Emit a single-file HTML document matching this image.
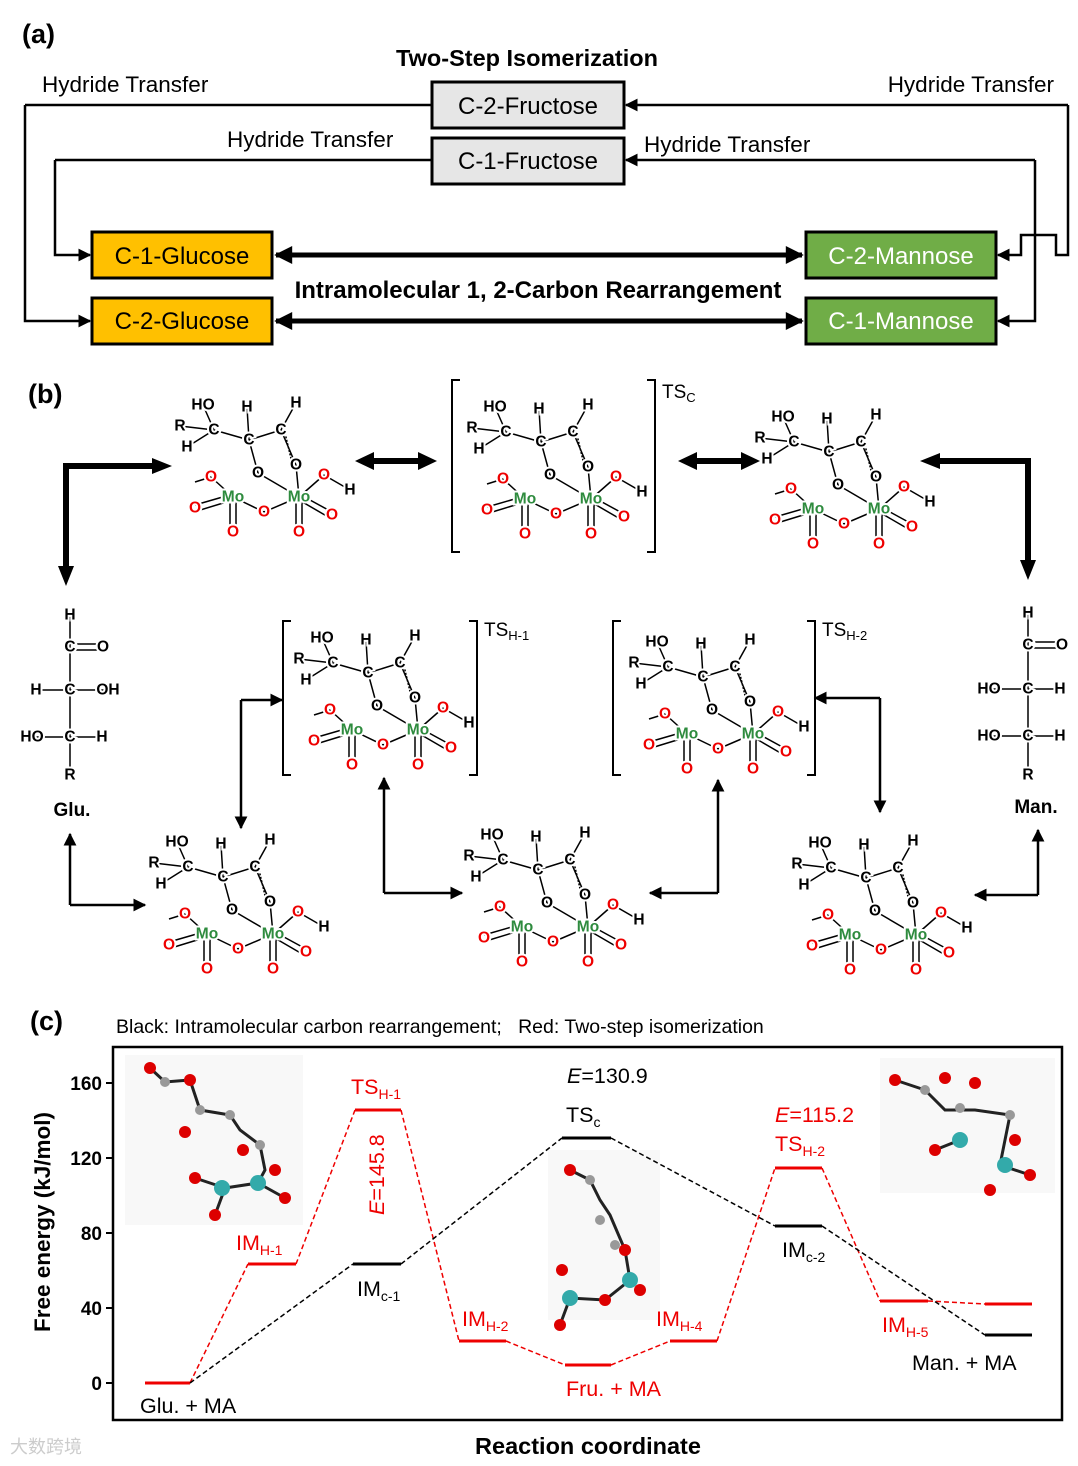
<!DOCTYPE html>
<html><head><meta charset="utf-8"><style>
body{margin:0;background:#fff}
svg{display:block;font-family:"Liberation Sans",Arial,sans-serif}
.a text{font-size:15.5px;font-weight:bold;text-anchor:middle;dominant-baseline:central;paint-order:stroke;stroke:#fff;stroke-width:4px}
.r{fill:#e00}.g{fill:#2e8b3e}
</style></head><body>
<svg width="1078" height="1466" viewBox="0 0 1078 1466">
<defs>
<marker id="am" viewBox="0 0 10 10" refX="9" refY="5" markerWidth="13" markerHeight="13" orient="auto-start-reverse" markerUnits="userSpaceOnUse"><path d="M0,0L10,5L0,10z"/></marker>
<marker id="aL" viewBox="0 0 10 10" refX="9" refY="5" markerWidth="20" markerHeight="18" orient="auto-start-reverse" markerUnits="userSpaceOnUse"><path d="M0,0L10,5L0,10z"/></marker>
<g id="mol" class="a">
<g stroke="#000" stroke-width="1.5" fill="none">
<line x1="28" y1="10" x2="39" y2="35"/><line x1="5" y1="31" x2="39" y2="35"/><line x1="12" y1="52" x2="39" y2="35"/>
<line x1="39" y1="35" x2="74" y2="45"/><line x1="72" y1="12" x2="74" y2="45"/><line x1="74" y1="45" x2="106" y2="35"/>
<line x1="121" y1="8" x2="106" y2="35"/><line x1="74" y1="45" x2="83" y2="78"/><line x1="106" y1="35" x2="121" y2="70"/>
<line x1="110" y1="38" x2="118" y2="72" stroke-dasharray="2,1.5"/>
<line x1="83" y1="78" x2="124" y2="102"/><line x1="121" y1="70" x2="124" y2="102"/>
<line x1="149" y1="80" x2="124" y2="102"/><line x1="149" y1="80" x2="175" y2="95"/>
<line x1="58" y1="102" x2="89" y2="117"/><line x1="89" y1="117" x2="124" y2="102"/>
<line x1="36" y1="82" x2="58" y2="102"/><line x1="36" y1="82" x2="20" y2="87"/>
<line x1="20" y1="110" x2="58" y2="99"/><line x1="22" y1="116" x2="58" y2="105"/>
<line x1="55" y1="102" x2="55" y2="137"/><line x1="61" y1="102" x2="61" y2="137"/>
<line x1="121" y1="102" x2="121" y2="137"/><line x1="127" y1="102" x2="127" y2="137"/>
<line x1="124" y1="99" x2="157" y2="117"/><line x1="124" y1="105" x2="155" y2="123"/>
</g>
<text x="28" y="10">HO</text><text x="72" y="12">H</text><text x="121" y="8">H</text><text x="5" y="31">R</text>
<text x="39" y="35">C</text><text x="12" y="52">H</text><text x="74" y="45">C</text><text x="106" y="35">C</text>
<text x="83" y="78">O</text><text x="121" y="70">O</text><text class="r" x="149" y="80">O</text><text x="175" y="95">H</text>
<text class="g" x="58" y="102">Mo</text><text class="g" x="124" y="102">Mo</text>
<text class="r" x="36" y="82">O</text><text class="r" x="20" y="113">O</text><text class="r" x="89" y="117">O</text>
<text class="r" x="58" y="137">O</text><text class="r" x="124" y="137">O</text><text class="r" x="157" y="120">O</text>
</g>
</defs>

<!-- (a) -->
<text x="22" y="43" font-size="27" font-weight="bold">(a)</text>
<text x="527" y="66" font-size="23.5" font-weight="bold" text-anchor="middle">Two-Step Isomerization</text>
<text x="42" y="92" font-size="22.5">Hydride Transfer</text>
<text x="1054" y="92" font-size="22.5" text-anchor="end">Hydride Transfer</text>
<text x="227" y="147" font-size="22.5">Hydride Transfer</text>
<text x="644" y="152" font-size="22.5">Hydride Transfer</text>
<g stroke="#000" stroke-width="3" fill="none">
<rect x="432" y="82" width="192" height="46" fill="#e6e6e6"/>
<rect x="432" y="138" width="192" height="46" fill="#e6e6e6"/>
<rect x="92" y="232" width="180" height="46" fill="#ffc000"/>
<rect x="92" y="298" width="180" height="46" fill="#ffc000"/>
<rect x="806" y="232" width="190" height="46" fill="#70ad47"/>
<rect x="806" y="298" width="190" height="46" fill="#70ad47"/>
</g>
<g font-size="24" text-anchor="middle">
<text x="528" y="114">C-2-Fructose</text><text x="528" y="169">C-1-Fructose</text>
<text x="182" y="264">C-1-Glucose</text><text x="182" y="329">C-2-Glucose</text>
<text x="901" y="264" fill="#fff">C-2-Mannose</text><text x="901" y="329" fill="#fff">C-1-Mannose</text>
</g>
<g stroke="#000" stroke-width="2.5" fill="none" marker-end="url(#am)">
<polyline points="25,105 25,321 90,321"/>
<polyline points="55,160 55,255 90,255"/>
<polyline points="432,105 25,105" marker-end="none"/>
<polyline points="432,160 55,160" marker-end="none"/>
<line x1="1068" y1="105" x2="626" y2="105"/>
<line x1="1035" y1="160" x2="626" y2="160"/>
<polyline points="1035,160 1035,321 998,321"/>
<polyline points="1068,105 1068,255 1056,255 1056,235 1021,235 1021,255 998,255"/>
</g>
<g stroke="#000" stroke-width="5" marker-start="url(#aL)" marker-end="url(#aL)">
<line x1="276" y1="255" x2="802" y2="255"/><line x1="276" y1="321" x2="802" y2="321"/>
</g>
<text x="538" y="298" font-size="24" font-weight="bold" text-anchor="middle">Intramolecular 1, 2-Carbon Rearrangement</text>

<!-- (b) -->
<text x="28" y="403" font-size="27" font-weight="bold">(b)</text>
<use href="#mol" x="175" y="395"/>
<use href="#mol" x="467" y="397"/>
<use href="#mol" x="755" y="407"/>
<use href="#mol" x="294" y="628"/>
<use href="#mol" x="629" y="632"/>
<use href="#mol" x="149" y="832"/>
<use href="#mol" x="464" y="825"/>
<use href="#mol" x="792" y="833"/>
<g stroke="#000" stroke-width="2" fill="none">
<polyline points="460,380 452,380 452,552 460,552"/><polyline points="647,380 655,380 655,552 647,552"/>
<polyline points="291,621 283,621 283,775 291,775"/><polyline points="469,621 477,621 477,775 469,775"/>
<polyline points="621,621 613,621 613,775 621,775"/><polyline points="807,621 815,621 815,775 807,775"/>
</g>
<text x="662" y="398" font-size="19">TS<tspan font-size="13" dy="4">C</tspan></text>
<text x="484" y="636" font-size="19">TS<tspan font-size="13" dy="4">H-1</tspan></text>
<text x="822" y="636" font-size="19">TS<tspan font-size="13" dy="4">H-2</tspan></text>
<g stroke="#000" stroke-width="6" fill="none">
<polyline points="66,568 66,466 153,466"/>
<polyline points="938,461 1028,461 1028,562"/>
<line x1="372" y1="461" x2="420" y2="461"/><line x1="695" y1="461" x2="743" y2="461"/>
</g>
<g>
<path d="M58,566L74,566L66,586z"/><path d="M152,458L152,474L172,466z"/>
<path d="M1020,560L1036,560L1028,580z"/><path d="M940,453L940,469L920,461z"/>
<path d="M374,452L374,470L355,461z"/><path d="M418,452L418,470L437,461z"/>
<path d="M697,452L697,470L678,461z"/><path d="M741,452L741,470L760,461z"/>
</g>
<g stroke="#000" stroke-width="2.5" fill="none" marker-end="url(#am)">
<polyline points="70,905 70,834"/><polyline points="70,905 145,905"/>
<polyline points="241,700 282,700"/><polyline points="241,700 241,828"/>
<polyline points="384,893 384,778"/><polyline points="384,893 462,893"/>
<polyline points="718,893 650,893"/><polyline points="718,893 718,780"/>
<polyline points="880,698 815,698"/><polyline points="880,698 880,812"/>
<polyline points="1038,895 975,895"/><polyline points="1038,895 1038,830"/>
</g>
<g class="a">
<g stroke="#000" stroke-width="1.5">
<line x1="70" y1="615" x2="70" y2="775"/><line x1="70" y1="644" x2="102" y2="644"/><line x1="70" y1="650" x2="102" y2="650"/>
<line x1="36" y1="690" x2="108" y2="690"/><line x1="32" y1="737" x2="102" y2="737"/>
<line x1="1028" y1="613" x2="1028" y2="775"/><line x1="1028" y1="642" x2="1060" y2="642"/><line x1="1028" y1="648" x2="1060" y2="648"/>
<line x1="990" y1="689" x2="1060" y2="689"/><line x1="990" y1="736" x2="1060" y2="736"/>
</g>
<text x="70" y="615">H</text><text x="70" y="647">C</text><text x="103" y="647">O</text>
<text x="36" y="690">H</text><text x="70" y="690">C</text><text x="108" y="690">OH</text>
<text x="32" y="737">HO</text><text x="70" y="737">C</text><text x="102" y="737">H</text><text x="70" y="775">R</text>
<text x="1028" y="613">H</text><text x="1028" y="645">C</text><text x="1062" y="645">O</text>
<text x="989" y="689">HO</text><text x="1028" y="689">C</text><text x="1060" y="689">H</text>
<text x="989" y="736">HO</text><text x="1028" y="736">C</text><text x="1060" y="736">H</text><text x="1028" y="775">R</text>
</g>
<text x="72" y="816" font-size="19" font-weight="bold" text-anchor="middle">Glu.</text>
<text x="1036" y="813" font-size="19" font-weight="bold" text-anchor="middle">Man.</text>

<!-- (c) -->
<text x="30" y="1030" font-size="27" font-weight="bold">(c)</text>
<text x="116" y="1033" font-size="19.5" xml:space="preserve">Black: Intramolecular carbon rearrangement;   Red: Two-step isomerization</text>
<rect x="113" y="1047" width="949" height="373" fill="none" stroke="#000" stroke-width="2.5"/>
<g stroke="#000" stroke-width="2">
<line x1="106" y1="1083" x2="113" y2="1083"/><line x1="106" y1="1158" x2="113" y2="1158"/>
<line x1="106" y1="1233" x2="113" y2="1233"/><line x1="106" y1="1308" x2="113" y2="1308"/><line x1="106" y1="1383" x2="113" y2="1383"/>
</g>
<g font-size="19" font-weight="bold" text-anchor="end">
<text x="102" y="1090">160</text><text x="102" y="1165">120</text><text x="102" y="1240">80</text><text x="102" y="1315">40</text><text x="102" y="1390">0</text>
</g>
<text transform="translate(50,1222) rotate(-90)" font-size="22.5" font-weight="bold" text-anchor="middle">Free energy (kJ/mol)</text>
<text x="588" y="1454" font-size="23.5" font-weight="bold" text-anchor="middle">Reaction coordinate</text>
<g>
<rect x="125" y="1055" width="178" height="170" fill="#f8f8f8"/>
<rect x="548" y="1150" width="112" height="170" fill="#f8f8f8"/>
<rect x="880" y="1058" width="175" height="135" fill="#f8f8f8"/>
<g stroke="#222" stroke-width="3" fill="none">
<polyline points="150,1068 165,1082 190,1080 200,1110 230,1115 240,1130 260,1145 265,1170 258,1183 225,1188 215,1215"/>
<polyline points="225,1188 195,1178"/><polyline points="258,1183 285,1198"/>
<polyline points="570,1170 590,1180 600,1200 610,1215 625,1250 630,1280 605,1300 570,1298 560,1325"/>
<polyline points="895,1080 925,1090 945,1110 975,1110 1010,1115 1000,1165 1030,1175"/><polyline points="960,1140 935,1150"/>
</g>
<g fill="#d00"><circle cx="150" cy="1068" r="6"/><circle cx="190" cy="1080" r="6"/><circle cx="185" cy="1132" r="6"/><circle cx="243" cy="1150" r="6"/><circle cx="195" cy="1178" r="6"/><circle cx="285" cy="1198" r="6"/><circle cx="215" cy="1215" r="6"/><circle cx="275" cy="1170" r="6"/>
<circle cx="570" cy="1170" r="6"/><circle cx="562" cy="1270" r="6"/><circle cx="560" cy="1325" r="6"/><circle cx="605" cy="1300" r="6"/><circle cx="640" cy="1290" r="6"/><circle cx="625" cy="1250" r="6"/>
<circle cx="895" cy="1080" r="6"/><circle cx="945" cy="1078" r="6"/><circle cx="975" cy="1083" r="6"/><circle cx="935" cy="1150" r="6"/><circle cx="1030" cy="1175" r="6"/><circle cx="990" cy="1190" r="6"/><circle cx="1015" cy="1140" r="6"/></g>
<g fill="#3aa"><circle cx="222" cy="1188" r="8"/><circle cx="258" cy="1183" r="8"/><circle cx="570" cy="1298" r="8"/><circle cx="630" cy="1280" r="8"/><circle cx="960" cy="1140" r="8"/><circle cx="1005" cy="1165" r="8"/></g>
<g fill="#999"><circle cx="165" cy="1082" r="5"/><circle cx="200" cy="1110" r="5"/><circle cx="230" cy="1115" r="5"/><circle cx="260" cy="1145" r="5"/><circle cx="590" cy="1180" r="5"/><circle cx="600" cy="1220" r="5"/><circle cx="615" cy="1245" r="5"/><circle cx="925" cy="1090" r="5"/><circle cx="960" cy="1108" r="5"/><circle cx="1010" cy="1115" r="5"/></g>
</g>
<g stroke="#e00" stroke-width="3">
<line x1="145" y1="1383" x2="190" y2="1383"/><line x1="248" y1="1264" x2="296" y2="1264"/>
<line x1="355" y1="1110" x2="401" y2="1110"/><line x1="459" y1="1341" x2="506" y2="1341"/>
<line x1="565" y1="1365" x2="611" y2="1365"/><line x1="670" y1="1341" x2="717" y2="1341"/>
<line x1="775" y1="1168" x2="822" y2="1168"/><line x1="880" y1="1301" x2="928" y2="1301"/>
<line x1="985" y1="1304" x2="1032" y2="1304"/>
</g>
<g stroke="#000" stroke-width="3">
<line x1="353" y1="1264" x2="401" y2="1264"/><line x1="562" y1="1138" x2="611" y2="1138"/>
<line x1="775" y1="1226" x2="822" y2="1226"/><line x1="985" y1="1335" x2="1032" y2="1335"/>
</g>
<g stroke="#e00" stroke-width="1.5" stroke-dasharray="5,3" fill="none">
<polyline points="190,1383 248,1264"/><polyline points="296,1264 355,1110"/><polyline points="401,1110 459,1341"/>
<polyline points="506,1341 565,1365"/><polyline points="611,1365 670,1341"/><polyline points="717,1341 775,1168"/>
<polyline points="822,1168 880,1301"/><polyline points="928,1301 985,1304"/>
</g>
<g stroke="#000" stroke-width="1.5" stroke-dasharray="5,3" fill="none">
<polyline points="190,1383 353,1264"/><polyline points="401,1264 562,1138"/><polyline points="611,1138 775,1226"/><polyline points="822,1226 985,1335"/>
</g>
<g font-size="21.5">
<text x="140" y="1413">Glu. + MA</text>
<text x="912" y="1370">Man. + MA</text>
<text x="567" y="1083"><tspan font-style="italic">E</tspan>=130.9</text>
<text x="566" y="1122">TS<tspan font-size="14" dy="5">c</tspan></text>
<text x="357" y="1296">IM<tspan font-size="14" dy="5">c-1</tspan></text>
<text x="782" y="1257">IM<tspan font-size="14" dy="5">c-2</tspan></text>
</g>
<g font-size="21.5" fill="#e00">
<text x="236" y="1250">IM<tspan font-size="14" dy="5">H-1</tspan></text>
<text x="351" y="1094">TS<tspan font-size="14" dy="5">H-1</tspan></text>
<text x="462" y="1326">IM<tspan font-size="14" dy="5">H-2</tspan></text>
<text x="656" y="1326">IM<tspan font-size="14" dy="5">H-4</tspan></text>
<text x="882" y="1332">IM<tspan font-size="14" dy="5">H-5</tspan></text>
<text x="775" y="1151">TS<tspan font-size="14" dy="5">H-2</tspan></text>
<text x="775" y="1122"><tspan font-style="italic">E</tspan>=115.2</text>
<text x="566" y="1396">Fru. + MA</text>
<text transform="translate(384,1215) rotate(-90)"><tspan font-style="italic">E</tspan>=145.8</text>
</g>
<text x="10" y="1453" font-size="18" fill="#ccc">大数跨境</text>
</svg>
</body></html>
